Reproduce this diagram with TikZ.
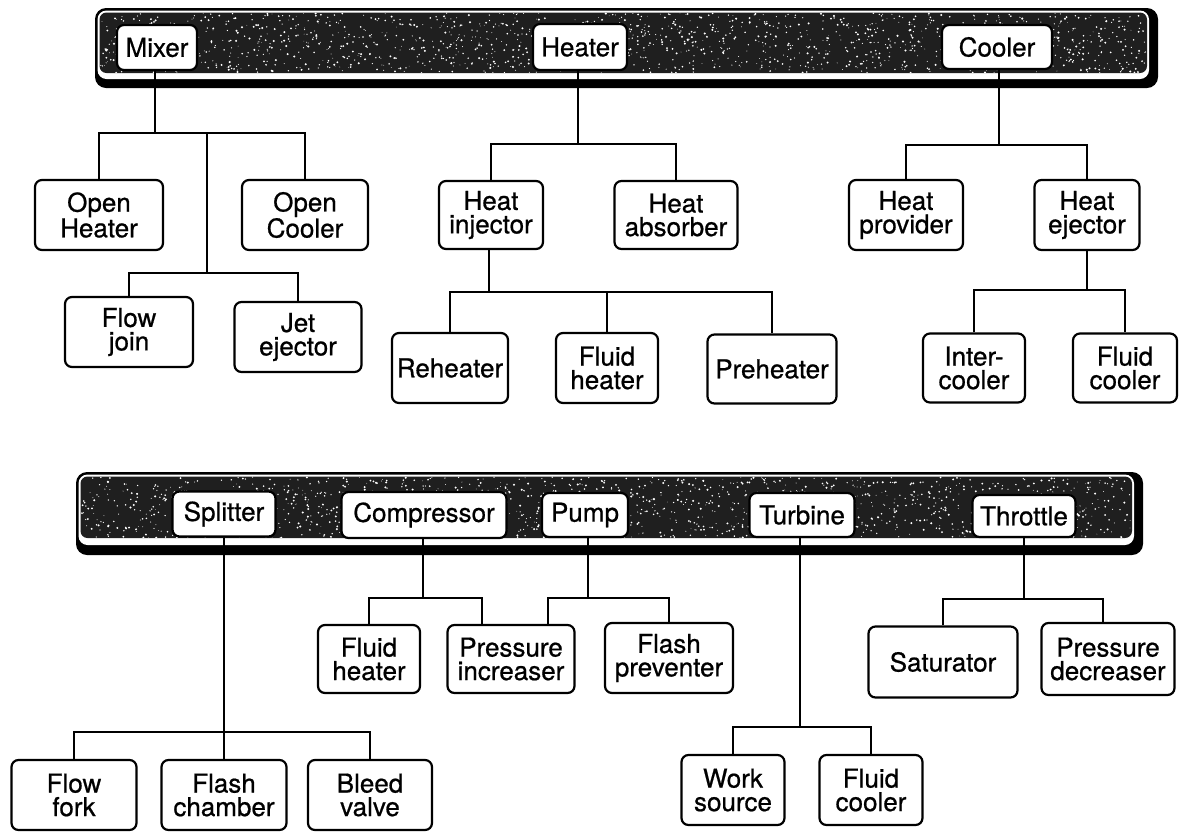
\documentclass[tikz,border=0pt]{standalone}
\usepackage{fontspec}
\setmainfont[FakeBold=0.7]{TeX Gyre Heros}
\begin{document}
\begin{tikzpicture}[x=1pt,y=-1pt,
  box/.style={draw=black, line width=2.2pt, rounded corners=7pt, fill=white, align=center,
              inner sep=0pt, font=\fontsize{26}{23.5}\selectfont},
  conn/.style={draw=black, line width=2pt},
  barouter/.style={fill=black, rounded corners=11pt},
  barwhite/.style={fill=white, rounded corners=9pt},
  barinner/.style={fill=black!88, rounded corners=7pt}]
\useasboundingbox (0,0) rectangle (1181,831);

% ---------- top bar ----------
\fill[barouter] (95,8) rectangle (1158,88);
\fill[barwhite] (97.5,10.5) rectangle (1149,79);
\fill[barinner] (99.5,12.5) rectangle (1147,73);
\begin{scope}
  \clip[rounded corners=7pt] (99.5,12.5) rectangle (1147,73);
  \pgfmathsetseed{11}
  \foreach \i in {1,...,1500}{
    \pgfmathsetmacro{\px}{100+1047*rnd}
    \pgfmathsetmacro{\py}{13+60*rnd}
    \pgfmathsetmacro{\pr}{0.35+0.8*rnd}
    \fill[white] (\px,\py) circle[radius=\pr pt];
  }
\end{scope}

% ---------- bottom bar ----------
\fill[barouter] (76,472) rectangle (1143,555);
\fill[barwhite] (78.5,474.5) rectangle (1134,545);
\fill[barinner] (80.5,476.5) rectangle (1132,538);
\begin{scope}
  \clip[rounded corners=7pt] (80.5,476.5) rectangle (1132,538);
  \pgfmathsetseed{23}
  \foreach \i in {1,...,1500}{
    \pgfmathsetmacro{\px}{81+1051*rnd}
    \pgfmathsetmacro{\py}{477+61*rnd}
    \pgfmathsetmacro{\pr}{0.35+0.8*rnd}
    \fill[white] (\px,\py) circle[radius=\pr pt];
  }
\end{scope}

% ---------- top-level boxes ----------
\node[box, minimum width=80pt,  minimum height=45pt] (mixer)   at (157,47.5) {Mixer};
\node[box, minimum width=94pt,  minimum height=46pt] (heater)  at (580,47) {Heater};
\node[box, minimum width=110pt, minimum height=44pt] (cooler)  at (997,47) {Cooler};

% mixer subtree
\node[box, minimum width=128pt, minimum height=70pt] (oh)  at (99,215)  {Open\\Heater};
\node[box, minimum width=126pt, minimum height=70pt] (oc)  at (305,215) {Open\\Cooler};
\node[box, minimum width=128pt, minimum height=70pt] (fj)  at (129,332) {Flow\\join};
\node[box, minimum width=127pt, minimum height=70pt] (je)  at (298,337) {Jet\\ejector};

% heater subtree
\node[box, minimum width=104pt, minimum height=68pt] (hi)  at (491,215) {Heat\\injector};
\node[box, minimum width=123pt, minimum height=68pt] (ha)  at (676,215) {Heat\\absorber};
\node[box, minimum width=116pt, minimum height=70pt] (reh) at (450,368) {Reheater};
\node[box, minimum width=102pt, minimum height=70pt] (fh)  at (607,368) {Fluid\\heater};
\node[box, minimum width=129pt, minimum height=69pt] (ph)  at (772,369) {Preheater};

% cooler subtree
\node[box, minimum width=114pt, minimum height=70pt] (hp)  at (906,215)  {Heat\\provider};
\node[box, minimum width=105pt, minimum height=70pt] (he)  at (1087,215) {Heat\\ejector};
\node[box, minimum width=102pt, minimum height=69pt] (ic)  at (974,368)  {Inter-\\cooler};
\node[box, minimum width=104pt, minimum height=69pt] (fc)  at (1125,368) {Fluid\\cooler};

% ---------- bottom top-level boxes ----------
\node[box, minimum width=103pt, minimum height=45pt] (splitter) at (224,514)  {Splitter};
\node[box, minimum width=165pt, minimum height=46pt] (comp)     at (424,515)  {Compressor};
\node[box, minimum width=86pt,  minimum height=44pt] (pump)     at (585,515)  {Pump};
\node[box, minimum width=105pt, minimum height=44pt] (turbine)  at (802,515)  {Turbine};
\node[box, minimum width=103pt, minimum height=42pt] (throttle) at (1024,516) {Throttle};

% compressor / pump subtree
\node[box, minimum width=102pt, minimum height=68pt] (fh2) at (369,659) {Fluid\\heater};
\node[box, minimum width=127pt, minimum height=68pt] (pi)  at (511,659) {Pressure\\increaser};
\node[box, minimum width=128pt, minimum height=70pt] (fp)  at (669,658) {Flash\\preventer};

% throttle subtree
\node[box, minimum width=149pt, minimum height=71pt] (sat) at (943,662)  {Saturator};
\node[box, minimum width=133pt, minimum height=72pt] (pd)  at (1108,659) {Pressure\\decreaser};

% splitter subtree
\node[box, minimum width=125pt, minimum height=70pt] (ff)  at (74,795)  {Flow\\fork};
\node[box, minimum width=125pt, minimum height=70pt] (fch) at (224,795) {Flash\\chamber};
\node[box, minimum width=124pt, minimum height=70pt] (bv)  at (370,795) {Bleed\\valve};

% turbine subtree
\node[box, minimum width=103pt, minimum height=70pt] (ws)  at (733,790) {Work\\source};
\node[box, minimum width=103pt, minimum height=70pt] (fc2) at (871,790) {Fluid\\cooler};

% ---------- connectors: top ----------
\coordinate (mx)  at (155,133);
\coordinate (mj)  at (207,133);
\coordinate (mj2) at (207,273);
\draw[conn] (mixer.south -| mx) -- (mx);
\draw[conn] (oh.north) |- (mx) -| (oc.north);
\draw[conn] (mj) -- (mj2);
\draw[conn] (fj.north) |- (mj2) -| (je.north);

\coordinate (hj)  at (578,144);
\coordinate (hij) at (489,292);
\draw[conn] (heater.south -| hj) -- (hj);
\draw[conn] (hi.north) |- (hj) -| (ha.north);
\draw[conn] (hi.south -| hij) -- (hij);
\draw[conn] (reh.north) |- (hij) -| (ph.north);
\draw[conn] (hij -| fh.north) -- (fh.north);

\coordinate (cj)  at (999,145);
\coordinate (hej) at (1087,290);
\draw[conn] (cooler.south -| cj) -- (cj);
\draw[conn] (hp.north) |- (cj) -| (he.north);
\draw[conn] (he.south -| hej) -- (hej);
\draw[conn] (ic.north) |- (hej) -| (fc.north);

% ---------- connectors: bottom ----------
\coordinate (sj) at (224,732);
\draw[conn] (splitter.south) -- (sj);
\draw[conn] (ff.north) |- (sj) -| (bv.north);
\draw[conn] (sj) -- (fch.north);

\coordinate (cpj) at (423,598);
\coordinate (cpr) at (482,598);
\draw[conn] (comp.south -| cpj) -- (cpj);
\draw[conn] (fh2.north) |- (cpj) -- (cpr) -- (cpr |- pi.north);

\coordinate (pj) at (588,598);
\coordinate (pl) at (548,598);
\draw[conn] (pump.south -| pj) -- (pj);
\draw[conn] (pl |- pi.north) -- (pl) -- (pj) -| (fp.north);

\coordinate (tj) at (800,727);
\draw[conn] (turbine.south -| tj) -- (tj);
\draw[conn] (ws.north) |- (tj) -| (fc2.north);

\coordinate (thj) at (1024,599);
\coordinate (thr) at (1103,599);
\draw[conn] (throttle.south) -- (thj);
\draw[conn] (sat.north) |- (thj) -- (thr) -- (thr |- pd.north);
\end{tikzpicture}
\end{document}
